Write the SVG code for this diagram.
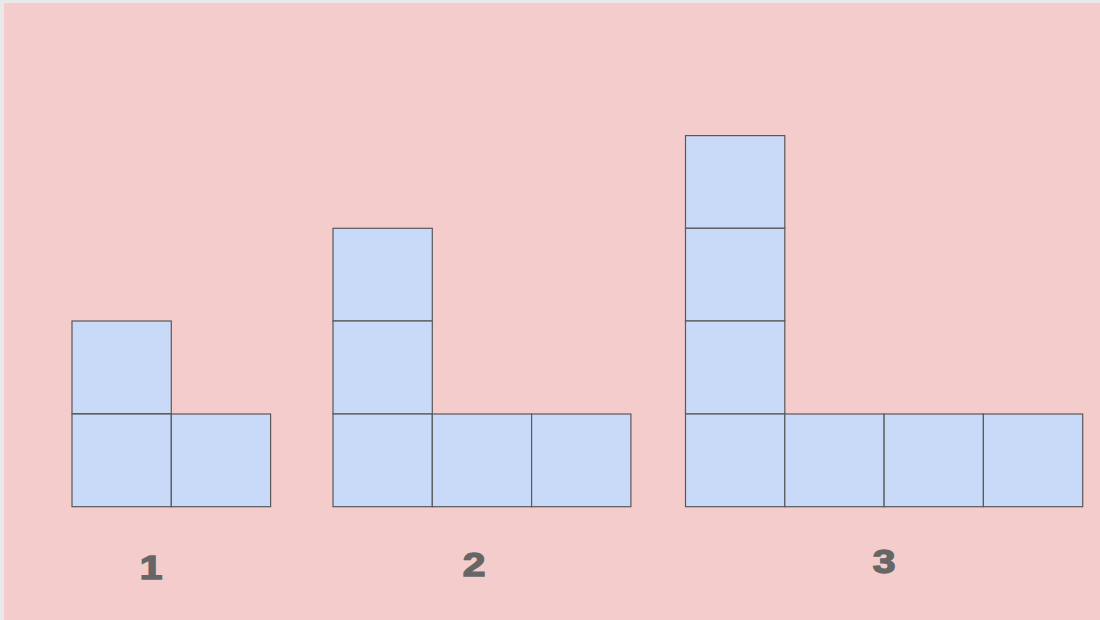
<svg xmlns="http://www.w3.org/2000/svg" width="1100" height="620" viewBox="0 0 1100 620">
<style>
.sq{fill:#c9daf8;stroke:#595959;stroke-width:1.2}
.lbl{font-family:"Liberation Sans",Arial,sans-serif;font-weight:bold;font-size:34px;fill:#666666;stroke:#666666;stroke-width:1.4;text-anchor:middle}
</style>
<rect x="0" y="0" width="1100" height="620" fill="#e9e9e9"/>
<rect x="4" y="3" width="1096" height="617" fill="#f4cccc"/>
<g id="fig1">
<rect class="sq" x="72" y="321" width="99.3" height="92.7"/>
<rect class="sq" x="72" y="414" width="99.3" height="92.7"/>
<rect class="sq" x="171.3" y="414" width="99.3" height="92.7"/>
<text class="lbl" transform="translate(151,579) scale(1.2,1)">1</text>
</g>
<g id="fig2">
<rect class="sq" x="333" y="228.3" width="99.3" height="92.7"/>
<rect class="sq" x="333" y="321" width="99.3" height="93"/>
<rect class="sq" x="333" y="414" width="99.3" height="92.7"/>
<rect class="sq" x="432.3" y="414" width="99.3" height="92.7"/>
<rect class="sq" x="531.6" y="414" width="99.3" height="92.7"/>
<text class="lbl" transform="translate(474,576) scale(1.2,1)">2</text>
</g>
<g id="fig3">
<rect class="sq" x="685.5" y="135.6" width="99.3" height="92.7"/>
<rect class="sq" x="685.5" y="228.3" width="99.3" height="92.7"/>
<rect class="sq" x="685.5" y="321" width="99.3" height="93"/>
<rect class="sq" x="685.5" y="414" width="99.3" height="92.7"/>
<rect class="sq" x="784.8" y="414" width="99.3" height="92.7"/>
<rect class="sq" x="884.1" y="414" width="99.3" height="92.7"/>
<rect class="sq" x="983.4" y="414" width="99.3" height="92.7"/>
<text class="lbl" transform="translate(884,573) scale(1.2,1)">3</text>
</g>
<g id="connectors"/>
</svg>
